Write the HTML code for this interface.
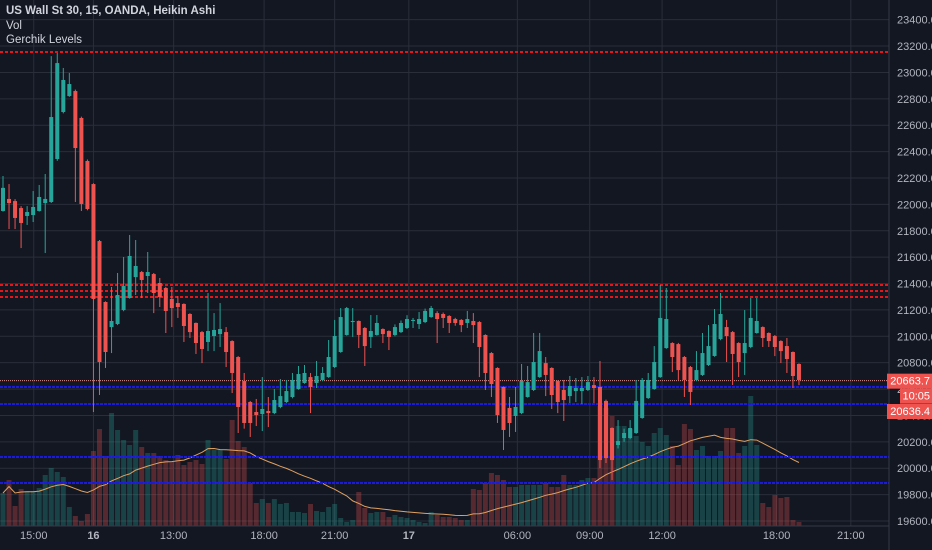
<!DOCTYPE html>
<html><head><meta charset="utf-8"><style>
html,body{margin:0;padding:0;background:#131722;overflow:hidden}
svg{display:block;font-family:"Liberation Sans",sans-serif}
</style></head><body>
<svg id="chart" width="932" height="550" viewBox="0 0 932 550" xmlns="http://www.w3.org/2000/svg">
<rect x="0" y="0" width="932" height="550" fill="#131722"/>
<g id="grid"></g>
<g id="vol"></g>
<path id="ma" fill="none" stroke="#e0a060" stroke-width="1"/>
<g id="levels"></g>
<g id="candles"></g>
<g id="axes"></g>
<g fill="#d1d4dc" font-size="11.5" font-weight="bold">
<text x="6" y="14">US Wall St 30, 15, OANDA, Heikin Ashi</text>
<text x="6" y="29" font-weight="normal">Vol</text>
<text x="6" y="43" font-weight="normal">Gerchik Levels</text>
</g>
</svg>
<script>
const opens=[21950,22041,22025,21972,21912,21919,21950,22010,22018,22344,22700,22821,22859,22655,22329,22154,21722,21260,21070,21093,21199,21290,21449,21487,21457,21472,21404,21366,21283,21252,21245,21169,21101,21032,20957,21002,21017,21032,20964,20843,20661,20502,20426,20411,20434,20418,20464,20502,20540,20600,20646,20691,20646,20669,20691,20767,20881,21010,21108,21116,21063,20995,21010,21055,21040,21010,21032,21063,21116,21093,21108,21146,21176,21169,21154,21131,21124,21101,21116,21108,21010,20873,20760,20616,20457,20396,20418,20540,20593,20691,20797,20760,20661,20593,20547,20585,20585,20593,20630,20616,20510,20305,20176,20229,20229,20267,20381,20532,20600,20691,20911,20949,20941,20843,20767,20669,20707,20782,20851,20979,21070,21032,20949,20873,20919,21025,21070,21025,21002,20964,20926,20881,20790];
const highs=[22215,22154,22040,21987,21987,22101,22147,22230,23124,23147,23034,22996,22870,22665,22340,22160,21730,21265,21374,21480,21601,21768,21730,21495,21639,21480,21442,21375,21374,21305,21250,21175,21105,21040,21328,21176,21252,21070,20970,20850,20722,20510,20525,20691,20540,20600,20676,20669,20722,20775,20782,20722,20813,20767,20972,21124,21214,21222,21214,21120,21070,21161,21161,21060,21045,21090,21120,21160,21139,21184,21210,21230,21190,21180,21160,21140,21130,21192,21176,21115,21015,20880,20765,20620,20540,20616,20790,20775,21025,21025,20843,20765,20665,20669,20699,20684,20691,20699,20691,20813,20520,20310,20365,20300,20365,20669,20684,20722,20926,21389,21366,20955,20950,20850,20775,20888,21025,21085,21207,21328,21124,21040,20955,21199,21290,21290,21075,21030,21010,20970,20987,20885,20795];
const lows=[21945,21813,21813,21669,21844,21866,21945,21631,22010,22330,22690,22815,22018,21950,21955,20426,20555,20760,20873,21085,21190,21285,21313,21290,21328,21176,21222,21025,21070,21139,20957,20987,20866,20797,20888,20888,20919,20767,20570,20267,20300,20237,20320,20282,20312,20410,20455,20495,20530,20595,20640,20418,20608,20660,20685,20760,20875,21005,20995,20911,20775,20911,21005,20949,20896,21000,21025,21055,21063,21055,21100,21140,20949,21063,21025,21080,21032,21063,20949,20691,20593,20540,20343,20138,20237,20275,20410,20535,20585,20685,20547,20449,20418,20358,20494,20502,20487,20585,20494,20001,20040,19910,20150,20200,20220,20260,20375,20525,20595,20685,20905,20729,20669,20540,20479,20660,20700,20775,20845,20970,20805,20631,20691,20707,20910,21020,20919,20919,20850,20797,20722,20608,20630];
const closes=[22125,22010,21897,21859,21942,21980,22056,22041,22662,23071,22943,22912,22427,22003,21965,21283,20805,20881,21116,21313,21381,21609,21533,21427,21487,21328,21298,21192,21214,21222,21078,21032,20949,20904,21040,21048,21055,20881,20722,20464,20343,20343,20403,20449,20418,20517,20547,20585,20669,20714,20722,20616,20699,20722,20843,21002,21146,21214,21116,21010,20926,21040,21101,21017,20995,21070,21101,21131,21124,21131,21192,21214,21131,21139,21101,21101,21085,21131,21085,20919,20722,20638,20403,20290,20343,20464,20661,20653,20805,20888,20707,20555,20502,20517,20623,20608,20608,20653,20608,20062,20077,20062,20206,20267,20305,20510,20669,20669,20805,21139,21131,20843,20744,20669,20578,20744,20873,20926,21093,21169,21002,20866,20805,20949,21139,21116,20987,20964,20919,20888,20828,20699,20669];
const volumes=[33,46,20,37,35,35,38,51,58,54,49,19,10,5,12,75,97,70,113,96,86,81,96,79,73,73,70,66,64,71,61,64,66,62,86,76,76,67,106,85,79,43,23,27,23,27,22,23,14,14,13,22,15,14,19,22,8,4,6,34,18,13,14,14,9,11,9,8,6,4,3,14,11,9,9,8,6,6,37,36,43,53,51,46,39,39,41,41,41,41,43,39,39,51,41,41,46,48,48,120,118,110,100,100,97,90,84,80,93,98,91,80,61,102,97,76,80,70,70,75,98,98,73,80,130,81,23,19,31,28,29,6,4];
const priceTicks=[19600,19800,20000,20200,20400,20600,20800,21000,21200,21400,21600,21800,22000,22200,22400,22600,22800,23000,23200,23400];
const timeLabels=["15:00","16","13:00","18:00","21:00","17","06:00","09:00","12:00","18:00","21:00"];
const timeSlots=[5.1,15,28.3,43.3,55,67.3,85.3,97.3,109.3,128.3,140.6];
const redLevels=[23155,21389,21343,21298];
const blueLevels=[20616,20487,20085,19888];
const lastPrice=20663.7;
const tagPrice=20636.4;

const NS="http://www.w3.org/2000/svg";
const PLOT_R=889, AXIS_Y=526;
function yP(p){return 521-(p-19600)*0.13193;}
function xI(i){return 3+i*6.03;}
function yV(v){return AXIS_Y-v;}
function mk(tag,attrs,parent){const e=document.createElementNS(NS,tag);for(const k in attrs)e.setAttribute(k,attrs[k]);parent.appendChild(e);return e;}

const grid=document.getElementById('grid');
const axes=document.getElementById('axes');
priceTicks.forEach(p=>{
  const y=yP(p);
  const l=mk('line',{x1:0,x2:PLOT_R,y1:y,y2:y,stroke:'#2a2e39','stroke-width':1},grid);
  
  
  const t=mk('text',{x:897,y:y+4,fill:'#b2b5be','font-size':11},axes);
  t.textContent=p.toFixed(1);
  
  
});
timeLabels.forEach((s,k)=>{
  const x=xI(timeSlots[k]);
  const l=mk('line',{x1:x,x2:x,y1:0,y2:AXIS_Y,stroke:'#2a2e39','stroke-width':1},grid);
  
  
  const t=mk('text',{x:x,y:539,fill:'#b2b5be','font-size':11,'text-anchor':'middle','font-weight':s==="16"||s==="17"?'bold':'normal'},axes);
  t.textContent=s;
  
  
});
const bx=mk('line',{x1:0,x2:PLOT_R,y1:AXIS_Y,y2:AXIS_Y,stroke:'#363a45','stroke-width':1},axes);


const by=mk('line',{x1:PLOT_R,x2:PLOT_R,y1:0,y2:550,stroke:'#363a45','stroke-width':1},axes);



const vol=document.getElementById('vol');
volumes.forEach((v,i)=>{
  const up=closes[i]>=opens[i];
  const r=mk('rect',{x:xI(i)-2.5,y:yV(v),width:5,height:v,fill:up?'#26a69a':'#ef5350','fill-opacity':0.3},vol);
  
  
});
let d='';
volumes.forEach((v,i)=>{
  const s=Math.max(0,i-19);let sum=0;for(let j=s;j<=i;j++)sum+=volumes[j];
  const m=sum/(i-s+1);
  d+=(i?'L':'M')+xI(i).toFixed(1)+' '+yV(m).toFixed(1);
});
document.getElementById('ma').setAttribute('d',d);

const lv=document.getElementById('levels');
redLevels.forEach(p=>{
  const l=mk('line',{x1:0,x2:PLOT_R,y1:yP(p),y2:yP(p),stroke:'#e8141a','stroke-width':2,'stroke-dasharray':'3 2'},lv);
  
  
});
blueLevels.forEach(p=>{
  const l=mk('line',{x1:0,x2:PLOT_R,y1:yP(p),y2:yP(p),stroke:'#1c1cd6','stroke-width':2,'stroke-dasharray':'3 1'},lv);
  
  
});
const cp=mk('line',{x1:0,x2:PLOT_R,y1:yP(lastPrice),y2:yP(lastPrice),stroke:'#d98a8a','stroke-width':1,'stroke-dasharray':'1 1'},lv);



const cg=document.getElementById('candles');
opens.forEach((o,i)=>{
  const c=closes[i],up=c>=o,col=up?'#26a69a':'#ef5350',x=xI(i);
  const w=mk('line',{x1:x,x2:x,y1:yP(highs[i]),y2:yP(lows[i]),stroke:col,'stroke-width':1},cg);
  
  
  const t=yP(Math.max(o,c)),b=yP(Math.min(o,c));
  const r=mk('rect',{x:x-2,y:t,width:4,height:Math.max(1,b-t),fill:col},cg);
  
  
});

function tag(txt,yy,x0,name){
  const r=mk('rect',{x:x0,y:yy-7,width:932-x0,height:15,fill:'#ef5350'},axes);
  
  
  const t=mk('text',{x:930,y:yy+4,fill:'#ffffff','font-size':11,'text-anchor':'end'},axes);
  t.textContent=txt;
  
  
}
tag(lastPrice.toFixed(1),yP(lastPrice),887,'last-price-tag');
tag('10:05',yP(lastPrice)+15,900,'countdown-tag');
tag(tagPrice.toFixed(1),411,887,'level-price-tag');
</script>
</body></html>
